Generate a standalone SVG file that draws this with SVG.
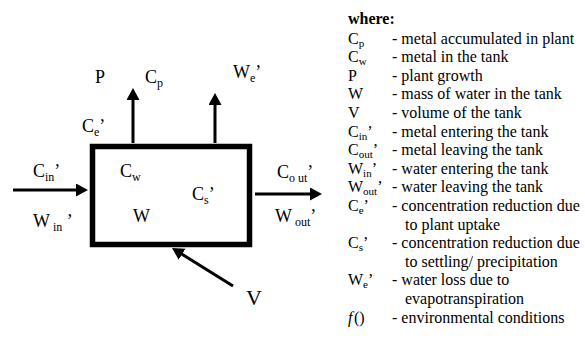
<svg xmlns="http://www.w3.org/2000/svg" width="585" height="349" viewBox="0 0 585 349">
<style>
text{font-family:"Liberation Serif","Times New Roman",serif;fill:#000}
.lb{font-size:18px}
.lb .s{font-size:12px}
.lg{font-size:16px}
.lg .s{font-size:11px}
.ar{stroke:#000;stroke-width:3;fill:none}
</style>
<defs>
<marker id="ah" markerUnits="userSpaceOnUse" markerWidth="14" markerHeight="14" refX="7" refY="6.5" orient="auto">
<path d="M0,0 L12,6.5 L0,13 z" fill="#000"/>
</marker>
</defs>
<rect width="585" height="349" fill="#fff"/>
<g id="tank">
<rect x="92.5" y="146.5" width="157" height="98" fill="none" stroke="#000" stroke-width="5.5"/>
<text class="lb" x="120" y="177">C<tspan class="s" dy="4">w</tspan></text>
<text class="lb" x="192" y="200">C<tspan class="s" dy="4">s</tspan><tspan dy="-4">’</tspan></text>
<text class="lb" x="133" y="222">W</text>
</g>
<g id="connectors">
<line class="ar" x1="13" y1="190" x2="83" y2="190" marker-end="url(#ah)"/>
<line class="ar" x1="255" y1="194" x2="317" y2="194" marker-end="url(#ah)"/>
<line class="ar" x1="133" y1="143" x2="133" y2="93" marker-end="url(#ah)"/>
<line class="ar" x1="215" y1="143" x2="215" y2="98" marker-end="url(#ah)"/>
<line class="ar" x1="233" y1="286" x2="176.2" y2="250.6" marker-end="url(#ah)"/>
</g>
<g id="inflow">
<text class="lb" x="33" y="177">C<tspan class="s" dy="4">in</tspan><tspan dy="-4">’</tspan></text>
<text class="lb" x="33" y="227">W<tspan class="s" dy="4"> in</tspan><tspan dy="-4"> ’</tspan></text>
</g>
<g id="outflow">
<text class="lb" x="277" y="178">C<tspan class="s" dy="4">o ut</tspan><tspan dy="-4">’</tspan></text>
<text class="lb" x="275" y="222">W<tspan class="s" dy="4"> out</tspan><tspan dy="-4">’</tspan></text>
</g>
<g id="plant">
<text class="lb" x="95" y="83">P</text>
<text class="lb" x="145" y="83">C<tspan class="s" dy="4">p</tspan></text>
<text class="lb" x="82" y="132">C<tspan class="s" dy="4">e</tspan><tspan dy="-4">’</tspan></text>
</g>
<g id="evap">
<text class="lb" x="233" y="78">W<tspan class="s" dy="4">e</tspan><tspan dy="-4">’</tspan></text>
</g>
<g id="volume">
<text class="lb" x="246" y="305" style="font-size:22px">V</text>
</g>
<g id="legend" class="lg">
<text x="348" y="24" font-weight="bold">where:</text>
<text x="348" y="43.6">C<tspan class="s" dy="3">p</tspan></text><text x="392" y="43.6">- metal accumulated in plant</text>
<text x="348" y="62.2">C<tspan class="s" dy="3">w</tspan></text><text x="392" y="62.2">- metal in the tank</text>
<text x="348" y="80.8">P</text><text x="392" y="80.8">- plant growth</text>
<text x="348" y="99.4">W</text><text x="392" y="99.4">- mass of water in the tank</text>
<text x="348" y="118">V</text><text x="392" y="118">- volume of the tank</text>
<text x="348" y="136.6">C<tspan class="s" dy="3">in</tspan><tspan dy="-3">’</tspan></text><text x="392" y="136.6">- metal entering the tank</text>
<text x="348" y="155.2">C<tspan class="s" dy="3">out</tspan><tspan dy="-3">’</tspan></text><text x="392" y="155.2">- metal leaving the tank</text>
<text x="348" y="173.8">W<tspan class="s" dy="3">in</tspan><tspan dy="-3">’</tspan></text><text x="392" y="173.8">- water entering the tank</text>
<text x="348" y="192.4">W<tspan class="s" dy="3">out</tspan><tspan dy="-3">’</tspan></text><text x="392" y="192.4">- water leaving the tank</text>
<text x="348" y="211">C<tspan class="s" dy="3">e</tspan><tspan dy="-3">’</tspan></text><text x="392" y="211">- concentration reduction due</text>
<text x="405" y="229.6">to plant uptake</text>
<text x="348" y="248.2">C<tspan class="s" dy="3">s</tspan><tspan dy="-3">’</tspan></text><text x="392" y="248.2">- concentration reduction due</text>
<text x="405" y="266.8">to settling/ precipitation</text>
<text x="348" y="285.4">W<tspan class="s" dy="3">e</tspan><tspan dy="-3">’</tspan></text><text x="392" y="285.4">- water loss due to</text>
<text x="405" y="304">evapotranspiration</text>
<text x="348" y="322.6" font-style="italic">f</text><text x="354" y="322.6">()</text><text x="392" y="322.6">- environmental conditions</text>
</g>
</svg>
